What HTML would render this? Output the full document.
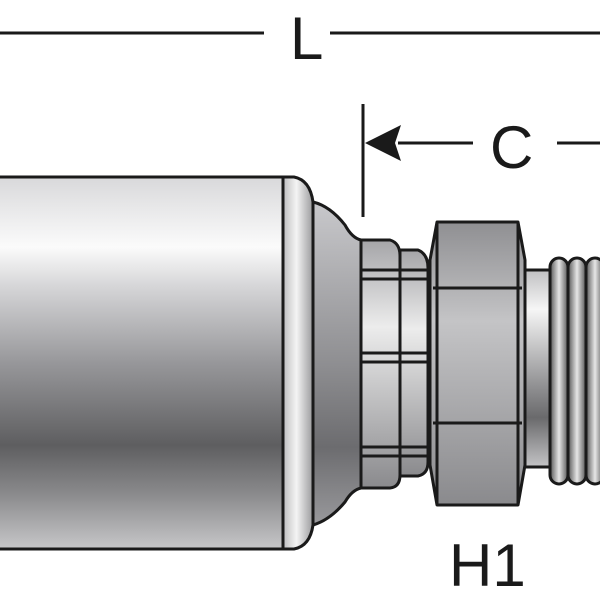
<!DOCTYPE html>
<html><head><meta charset="utf-8"><style>html,body{margin:0;padding:0;background:#fff}svg{display:block}</style></head>
<body>
<svg width="600" height="600" viewBox="0 0 600 600" xmlns="http://www.w3.org/2000/svg">
<defs>
<linearGradient id="body" x1="0" y1="176" x2="0" y2="550" gradientUnits="userSpaceOnUse">
<stop offset="0" stop-color="#d8d8da"/><stop offset="0.19" stop-color="#fbfbfb"/><stop offset="0.3" stop-color="#d4d4d6"/><stop offset="0.5" stop-color="#97979a"/><stop offset="0.72" stop-color="#5e5e60"/><stop offset="0.85" stop-color="#8a8a8c"/><stop offset="1" stop-color="#c8c8ca"/></linearGradient>
<linearGradient id="ring" x1="283" y1="0" x2="313" y2="0" gradientUnits="userSpaceOnUse">
<stop offset="0" stop-color="#bdbdbf"/><stop offset="0.45" stop-color="#f4f4f4"/><stop offset="1" stop-color="#9a9a9c"/></linearGradient>
<linearGradient id="taper" x1="0" y1="200" x2="0" y2="530" gradientUnits="userSpaceOnUse">
<stop offset="0" stop-color="#c9c9cc"/><stop offset="0.5" stop-color="#8e8e91"/><stop offset="0.75" stop-color="#6c6c6f"/><stop offset="1" stop-color="#9c9c9f"/></linearGradient>
<linearGradient id="seg" x1="0" y1="0" x2="0" y2="1">
<stop offset="0" stop-color="#a5a5a8"/><stop offset="0.35" stop-color="#ececec"/><stop offset="1" stop-color="#8a8a8d"/></linearGradient>
<linearGradient id="hex" x1="0" y1="0" x2="0" y2="1">
<stop offset="0" stop-color="#8f8f92"/><stop offset="0.35" stop-color="#c4c4c6"/><stop offset="1" stop-color="#8a8a8d"/></linearGradient>
<linearGradient id="shaft" x1="0" y1="270" x2="0" y2="467" gradientUnits="userSpaceOnUse">
<stop offset="0" stop-color="#c0c0c2"/><stop offset="0.2" stop-color="#f6f6f6"/><stop offset="0.6" stop-color="#8e8e90"/><stop offset="0.75" stop-color="#6a6a6c"/><stop offset="1" stop-color="#c4c4c6"/></linearGradient>
<linearGradient id="thr" x1="0" y1="0" x2="1" y2="0">
<stop offset="0" stop-color="#555"/><stop offset="0.5" stop-color="#e6e6e6"/><stop offset="1" stop-color="#555"/></linearGradient>
</defs>

<!-- dimension L -->
<g stroke="#1a1a1a" stroke-width="3">
<line x1="0" y1="33" x2="264" y2="33"/>
<line x1="330" y1="33" x2="600" y2="33"/>
<line x1="363" y1="104" x2="363" y2="217"/>
<line x1="398" y1="143" x2="473" y2="143"/>
<line x1="557" y1="143" x2="600" y2="143"/>
</g>
<path d="M365,143 L401,125 L395,143 L401,161 Z" fill="#1a1a1a"/>
<g font-family="Liberation Sans, sans-serif" fill="#1a1a1a" font-size="60">
<text x="290" y="59">L</text>
<text x="490" y="168">C</text>
<text x="449" y="586">H1</text>
</g>

<g stroke="#1a1a1a" stroke-width="3" stroke-linejoin="round">
<!-- body -->
<rect x="-5" y="177" width="288" height="372" fill="url(#body)"/>
<!-- ring -->
<path d="M283,177 L294,177 Q310,180 313,202 L313,525 Q310,546 294,549 L283,549 Z" fill="url(#ring)"/>
<!-- taper -->
<path d="M313,202 Q330,206 345,225 Q352,238 361,240 L361,488 Q352,490 345,502 Q330,520 313,525 Z" fill="url(#taper)"/>
<!-- step 1 -->
<path d="M361,240 L390,240 Q400,243 400,256 L400,475 Q400,487 390,488 L361,488 Z" fill="url(#seg)"/>
<!-- step 2 -->
<path d="M400,250 L418,250 Q428,254 428,268 L428,462 Q428,474 418,476 L400,476 Z" fill="url(#seg)"/>
<line x1="361" y1="270" x2="430" y2="270"/>
<line x1="361" y1="279" x2="430" y2="279"/>
<line x1="361" y1="353" x2="430" y2="353"/>
<line x1="361" y1="362" x2="430" y2="362"/>
<line x1="361" y1="447" x2="430" y2="447"/>
<line x1="361" y1="456" x2="430" y2="456"/>
<!-- shaft -->
<rect x="520" y="270" width="33" height="197" fill="url(#shaft)"/>
<!-- threads -->
<rect x="550" y="258" width="18" height="226" rx="9" fill="url(#thr)"/>
<rect x="568" y="258" width="18" height="226" rx="9" fill="url(#thr)"/>
<rect x="586" y="258" width="18" height="226" rx="9" fill="url(#thr)"/>
<!-- hex -->
<path d="M437,222 L518,222 L525,260 L525,465 L518,505 L437,505 L430,465 L430,260 Z" fill="url(#hex)"/>
<line x1="433" y1="288" x2="522" y2="288"/>
<line x1="433" y1="423" x2="522" y2="423"/>
<line x1="437" y1="222" x2="437" y2="505"/>
<line x1="518" y1="222" x2="518" y2="505"/>
</g>
</svg>
</body></html>
